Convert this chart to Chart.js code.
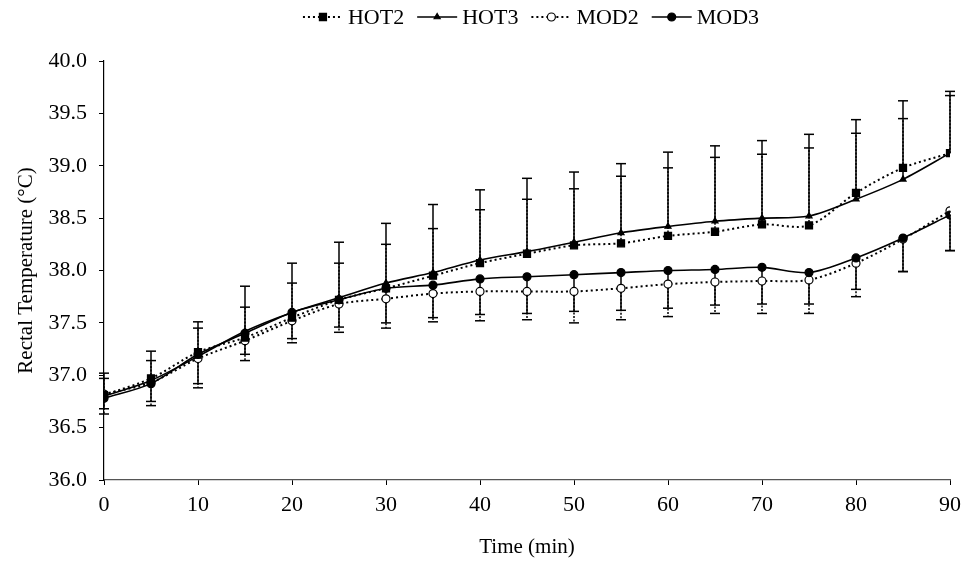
<!DOCTYPE html>
<html><head><meta charset="utf-8">
<script src="https://cdn.jsdelivr.net/npm/chart.js@4.4.1/dist/chart.umd.min.js"></script>
<style>html,body{margin:0;padding:0;background:#fff;}#wrap{width:971px;height:566px;}</style>
</head><body><div id="wrap"><canvas id="c" width="971" height="566"></canvas></div>
<script>
const times = [0,5,10,15,20,25,30,35,40,45,50,55,60,65,70,75,80,85,90];
const hot2 = [36.81,36.97,37.22,37.36,37.55,37.72,37.83,37.95,38.07,38.16,38.24,38.26,38.33,38.37,38.44,38.43,38.74,38.98,39.12];
const hot3 = [36.80,36.95,37.18,37.42,37.60,37.74,37.88,37.98,38.10,38.18,38.27,38.36,38.42,38.47,38.50,38.52,38.68,38.87,39.12];
const mod2 = [36.82,36.93,37.16,37.33,37.52,37.68,37.73,37.78,37.80,37.80,37.80,37.83,37.87,37.89,37.90,37.91,38.07,38.30,38.57];
const mod3 = [36.78,36.92,37.20,37.40,37.60,37.72,37.83,37.86,37.92,37.94,37.96,37.98,38.00,38.01,38.03,37.98,38.12,38.31,38.53];
// error bar ends (HOT upward, MOD downward)
const hot2Hi = [36.97,37.14,37.45,37.65,37.88,38.07,38.25,38.40,38.58,38.68,38.78,38.90,38.98,39.08,39.11,39.17,39.31,39.45,39.67];
const hot3Hi = [37.02,37.23,37.51,37.85,38.07,38.27,38.45,38.63,38.77,38.88,38.94,39.02,39.13,39.19,39.24,39.30,39.44,39.62,39.71];
const mod2Lo = [36.63,36.71,36.88,37.14,37.31,37.41,37.45,37.51,37.52,37.53,37.50,37.53,37.56,37.59,37.59,37.59,37.75,37.99,38.19];
const mod3Lo = [36.68,36.75,36.92,37.20,37.35,37.46,37.50,37.55,37.58,37.59,37.61,37.62,37.64,37.67,37.68,37.68,37.82,37.99,38.19];
const seriesNames = ['HOT2','HOT3','MOD2','MOD3'];
const yTicks = [36.0,36.5,37.0,37.5,38.0,38.5,39.0,39.5,40.0];

const FONT = '"Liberation Serif","Times New Roman",serif';
const pts = arr => times.map((t,i)=>({x:t,y:arr[i]}));

const styles = [
  {data:hot2, err:hot2Hi, dash:[2,3], width:2, point:'rect', radius:5, fill:'#000', order:1},
  {data:hot3, err:hot3Hi, dash:[], width:1.6, point:'triangle', radius:3.5, fill:'#000', order:2},
  {data:mod2, err:mod2Lo, dash:[2,3], width:2, point:'circle', radius:4, fill:'#fff', order:3},
  {data:mod3, err:mod3Lo, dash:[], width:1.6, point:'circle', radius:4, fill:'#000', order:0}
];

const datasets = styles.map((s,i)=>({
  label: seriesNames[i],
  data: pts(s.data),
  errEnds: s.err,
  order: s.order,
  borderColor:'#000',
  borderWidth:s.width,
  borderDash:s.dash,
  tension:0.3,
  pointStyle:s.point,
  pointRadius:s.radius,
  pointBackgroundColor:s.fill,
  pointBorderColor:'#000',
  pointBorderWidth:1.2,
  fill:false
}));

const errorBars = {
  id:'errorBars',
  beforeDatasetsDraw(chart){
    const ctx = chart.ctx, ys = chart.scales.y, xs = chart.scales.x;
    chart.data.datasets.forEach((ds)=>{
      const dotted = ds.borderDash && ds.borderDash.length;
      ctx.save();
      ctx.strokeStyle='#000';
      ctx.lineWidth=1.5;
      ds.data.forEach((p,i)=>{
        const x = xs.getPixelForValue(p.x);
        const y0 = ys.getPixelForValue(p.y);
        const y1 = ys.getPixelForValue(ds.errEnds[i]);
        ctx.setLineDash(dotted ? [2,1.5] : []);
        ctx.beginPath(); ctx.moveTo(x,y0); ctx.lineTo(x,y1); ctx.stroke();
        ctx.setLineDash([]);
        ctx.beginPath(); ctx.moveTo(x-5,y1); ctx.lineTo(x+5,y1); ctx.stroke();
      });
      ctx.restore();
    });
  }
};

const customLegend = {
  id:'customLegend',
  afterDraw(chart){
    const ctx = chart.ctx;
    ctx.save();
    ctx.font = '22px '+FONT;
    ctx.textBaseline='middle';
    ctx.fillStyle='#000';
    const glyph = 40, gapT = 5, gapI = 13;
    const dss = chart.data.datasets;
    const widths = dss.map(d=>ctx.measureText(d.label).width);
    const total = widths.reduce((a,b)=>a+b,0) + dss.length*(glyph+gapT) + (dss.length-1)*gapI;
    let x = 531 - total/2;
    const y = 17;
    dss.forEach((d,i)=>{
      ctx.save();
      ctx.strokeStyle='#000';
      ctx.lineWidth=d.borderWidth;
      ctx.setLineDash(d.borderDash);
      ctx.beginPath(); ctx.moveTo(x,y); ctx.lineTo(x+glyph,y); ctx.stroke();
      ctx.setLineDash([]);
      ctx.fillStyle=d.pointBackgroundColor; ctx.strokeStyle='#000'; ctx.lineWidth=1.2;
      Chart.helpers.drawPoint(ctx,{pointStyle:d.pointStyle, radius:d.pointRadius, borderWidth:1.2}, x+glyph/2, y);
      ctx.restore();
      x += glyph + gapT;
      ctx.fillText(d.label, x, y+1);
      x += widths[i] + gapI;
    });
    ctx.restore();
  }
};

new Chart(document.getElementById('c'), {
  type:'line',
  data:{datasets},
  plugins:[errorBars, customLegend],
  options:{
    responsive:false,
    animation:false,
    devicePixelRatio:1,
    layout:{padding:{top:61,right:21,left:0,bottom:0}},
    plugins:{legend:{display:false}, tooltip:{enabled:false}},
    scales:{
      x:{
        type:'linear', min:0, max:90,
        afterFit(s){ s.height = 86; },
        ticks:{stepSize:10, color:'#000', font:{family:FONT,size:22}, padding:7, maxRotation:0},
        grid:{display:true, drawOnChartArea:false, drawTicks:true, tickLength:5, color:'#000'},
        border:{display:true, color:'#555', width:1.2},
        title:{display:true, text:'Time (min)', color:'#000', font:{family:FONT,size:21}, padding:{top:4,bottom:6}}
      },
      y:{
        min:36, max:40,
        afterFit(s){ s.width = 104; },
        afterBuildTicks(s){ s.ticks = yTicks.map(v=>({value:v})); },
        ticks:{color:'#000', font:{family:FONT,size:22}, padding:12, callback:v=>v.toFixed(1)},
        grid:{display:true, drawOnChartArea:false, drawTicks:true, tickLength:5, color:'#000'},
        border:{display:true, color:'#000', width:1.2},
        title:{display:true, text:'Rectal Temperature (°C)', color:'#000', font:{family:FONT,size:21}, padding:{top:14,bottom:0}}
      }
    }
  }
});
</script></body></html>
